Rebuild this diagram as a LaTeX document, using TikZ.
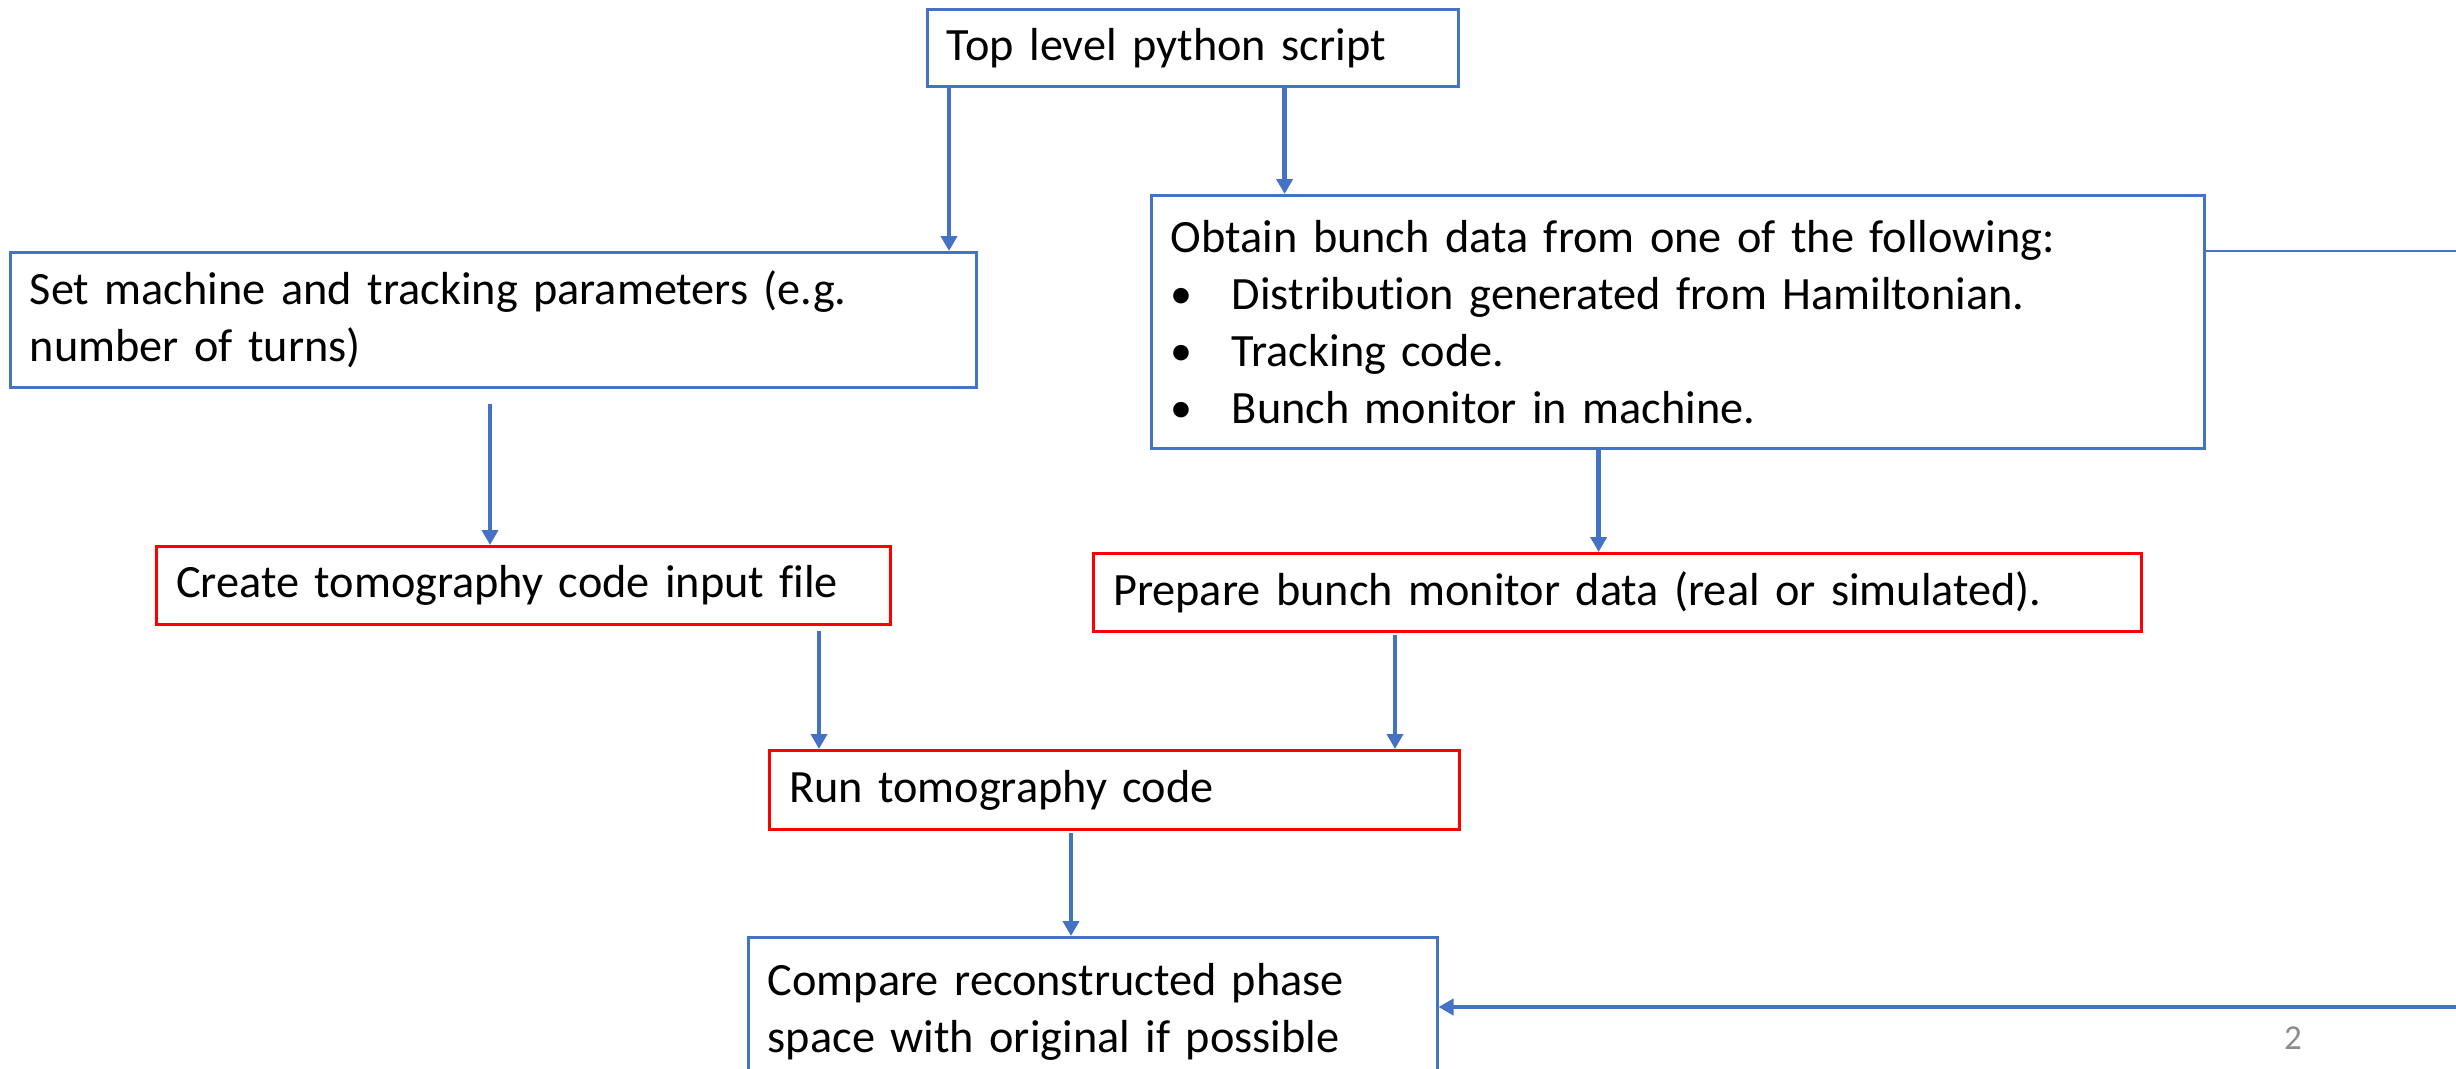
\documentclass[tikz,border=0pt]{standalone}
\usepackage{fontspec}
\setmainfont{Carlito}[Ligatures={NoCommon}]
\usetikzlibrary{arrows.meta}
\definecolor{flowblue}{HTML}{4472C4}
\definecolor{flowred}{HTML}{FF0000}
\definecolor{pagegray}{HTML}{8C8C8C}
\newcommand{\bitem}{\makebox[61pt][l]{\raisebox{1pt}{\scalebox{0.95}{\textbullet}}}}
\begin{document}
\begin{tikzpicture}[x=1pt,y=-1pt,
  box/.style={draw, anchor=north west, align=left, inner xsep=19.6pt, inner ysep=0pt,
    font=\fontsize{46.3}{57}\selectfont, text=black},
  bluebox/.style={box, draw=flowblue, line width=2.5pt},
  redbox/.style={box, draw=flowred, line width=3pt},
  flow/.style={draw=flowblue, line width=4.5pt, -{Triangle[length=15pt,width=16pt]}},
  thinlink/.style={draw=flowblue, line width=2.2pt},
]
\useasboundingbox (0,0) rectangle (2456,1068);

% process boxes
\node[bluebox, text width=491.8pt, minimum height=77pt] (top) at (926,8) {Top level python script};
\node[bluebox, text width=926.8pt, minimum height=135pt] (set) at (9,251)
  {Set machine and tracking parameters (e.g.\\ number of turns)};
\node[bluebox, text width=1013.8pt, minimum height=253pt] (obtain) at (1150,194)
  {Obtain bunch data from one of the following:\\
   \bitem Distribution generated from Hamiltonian.\\
   \bitem Tracking code.\\
   \bitem Bunch monitor in machine.};
\node[redbox, text width=694.8pt, minimum height=78pt] (create) at (155,545) {Create tomography code input file};
\node[redbox, text width=1008.8pt, minimum height=78pt] (prepare) at (1092,552) {Prepare bunch monitor data (real or simulated).};
\node[redbox, text width=650.8pt, minimum height=79pt] (run) at (768,749) {Run tomography code};
\node[bluebox, text width=649.8pt, minimum height=150pt] (compare) at (747,936)
  {Compare reconstructed phase\\ space with original if possible};

% page number
\node[font=\fontsize{35}{42}\selectfont, text=pagegray] (pagenum) at (2293,1038) {2};

% connectors
\draw[flow] ([xshift=23pt]top.south west) -- ([xshift=23pt]top.south west |- set.north);
\draw[flow] ([xshift=358.6pt]top.south west) -- ([xshift=358.6pt]top.south west |- obtain.north);
\draw[flow, shorten <=15pt] ([xshift=335pt]create.north west |- set.south) -- ([xshift=335pt]create.north west);
\draw[flow] ([xshift=448.6pt]obtain.south west) -- ([xshift=448.6pt]obtain.south west |- prepare.north);
\draw[flow, shorten <=5pt] ([xshift=51pt]run.north west |- create.south) -- ([xshift=51pt]run.north west);
\draw[flow, shorten <=2pt] ([xshift=627pt]run.north west |- prepare.south) -- ([xshift=627pt]run.north west);
\draw[flow, shorten <=2pt] ([xshift=324pt]compare.north west |- run.south) -- ([xshift=324pt]compare.north west);

% feedback from the bunch data source to the comparison
\coordinate (loopTop) at (2470,250.7);
\coordinate (loopBottom) at (2470,1007);
\draw[thinlink] ([yshift=-56.7pt]obtain.north east) -- (loopTop);
\draw[thinlink] (loopTop) -- (loopBottom);
\draw[flow] (loopBottom) -- (compare.north east |- loopBottom);
\end{tikzpicture}
\end{document}
